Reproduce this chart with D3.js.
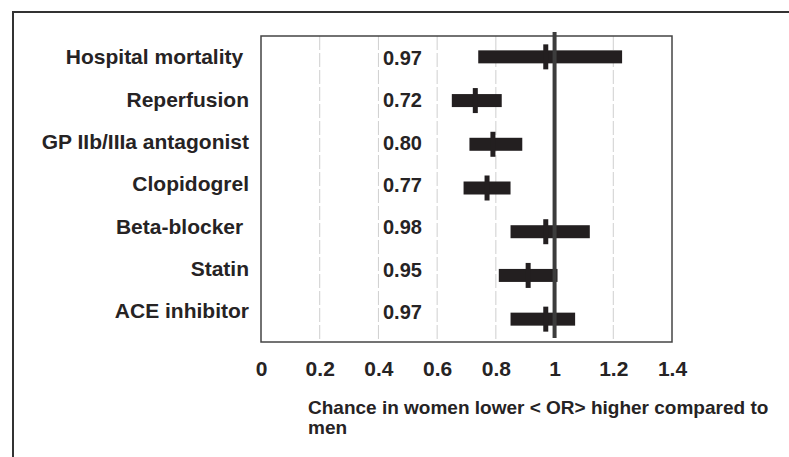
<!DOCTYPE html>
<html>
<head>
<meta charset="utf-8">
<script src="https://cdn.jsdelivr.net/npm/d3@7"></script>
<style>
  body { margin: 0; background: #fff; }
  text { font-family: "Liberation Sans", Arial, sans-serif; font-weight: bold; fill: #262324; }
</style>
</head>
<body>
<div id="chart"></div>
<script>
// rows, top to bottom
var categories = ['Hospital mortality ', 'Reperfusion', 'GP IIb/IIIa antagonist', 'Clopidogrel', 'Beta-blocker ', 'Statin', 'ACE inhibitor'];
// printed odds ratios
var orLabels = ['0.97', '0.72', '0.80', '0.77', '0.98', '0.95', '0.97'];
// where the marker sits on the axis
var estimates = [0.97, 0.73, 0.79, 0.77, 0.97, 0.91, 0.97];
// confidence intervals
var lower = [0.74, 0.65, 0.71, 0.69, 0.85, 0.81, 0.85];
var upper = [1.23, 0.82, 0.89, 0.85, 1.12, 1.01, 1.07];
var tickValues = [0, 0.2, 0.4, 0.6, 0.8, 1, 1.2, 1.4];
var gridValues = [0.2, 0.4, 0.6, 0.8, 1.2];
var axisTitle = ['Chance in women lower < OR> higher compared to', 'men'];

var width = 789;
var height = 457;
var plot = { left: 261, right: 672, top: 36, bottom: 342 };

var svg = d3.select('#chart').append('svg')
  .attr('width', width)
  .attr('height', height);

// outer frame (cut off at right and bottom)
svg.append('rect')
  .attr('x', 13).attr('y', 12)
  .attr('width', width).attr('height', height)
  .style('fill', 'none')
  .style('stroke', '#333')
  .style('stroke-width', 2);

var x = d3.scaleLinear().domain([0, 1.4]).range([plot.left, plot.right]);
var y = d3.scaleBand().domain(categories).range([35, 341]);
var yText = d3.scalePoint().domain(categories).range([57, 311]);

var rows = categories.map(function (c, i) {
  return { name: c, label: orLabels[i], est: estimates[i], lo: lower[i], hi: upper[i] };
});

// grid lines
svg.selectAll('.grid')
  .data(gridValues)
  .enter().append('line')
  .attr('class', 'grid')
  .attr('x1', function (d) { return x(d); })
  .attr('x2', function (d) { return x(d); })
  .attr('y1', plot.top)
  .attr('y2', plot.bottom)
  .style('stroke', '#cfcfcf')
  .style('stroke-width', 1)
  .style('stroke-dasharray', '14,3');

// plot box
svg.append('rect')
  .attr('x', plot.left).attr('y', plot.top)
  .attr('width', plot.right - plot.left)
  .attr('height', plot.bottom - plot.top)
  .style('fill', 'none')
  .style('stroke', '#444')
  .style('stroke-width', 1.5);

// x axis labels
var xAxis = d3.axisBottom(x)
  .tickValues(tickValues)
  .tickSize(0)
  .tickPadding(19)
  .tickFormat(function (d) { return String(d); });
var gx = svg.append('g')
  .attr('transform', 'translate(0,' + plot.bottom + ')')
  .call(xAxis);
gx.select('.domain').remove();
gx.selectAll('text')
  .style('font-size', '21px')
  .style('font-family', '"Liberation Sans", Arial, sans-serif')
  .style('font-weight', 'bold')
  .attr('fill', '#262324');

// CI bars and markers
var row = svg.selectAll('.row')
  .data(rows)
  .enter().append('g')
  .attr('class', 'row')
  .attr('transform', function (d) { return 'translate(0,' + (y(d.name) + y.bandwidth() / 2) + ')'; });
row.append('rect')
  .attr('x', function (d) { return x(d.lo); })
  .attr('y', -6.5)
  .attr('width', function (d) { return x(d.hi) - x(d.lo); })
  .attr('height', 13)
  .style('fill', '#231f20');
row.append('rect')
  .attr('x', function (d) { return x(d.est) - 2.5; })
  .attr('y', -12.5)
  .attr('width', 5)
  .attr('height', 25)
  .style('fill', '#231f20');

// line of no effect
svg.append('line')
  .attr('x1', x(1)).attr('x2', x(1))
  .attr('y1', 32).attr('y2', 338)
  .style('stroke', '#3c3c3c')
  .style('stroke-width', 4);

// row labels
svg.selectAll('.rowLabel')
  .data(rows)
  .enter().append('text')
  .attr('class', 'rowLabel')
  .attr('x', 249)
  .attr('y', function (d) { return yText(d.name); })
  .attr('dy', '0.35em')
  .attr('text-anchor', 'end')
  .style('white-space', 'pre')
  .style('font-size', '21px')
  .text(function (d) { return d.name; });

// OR values
svg.selectAll('.orLabel')
  .data(rows)
  .enter().append('text')
  .attr('class', 'orLabel')
  .attr('x', 383)
  .attr('y', function (d) { return yText(d.name) + 1; })
  .attr('dy', '0.35em')
  .style('font-size', '20px')
  .text(function (d) { return d.label; });

// axis title
svg.append('text')
  .attr('x', 308)
  .attr('y', 414)
  .style('font-size', '19px')
  .selectAll('tspan')
  .data(axisTitle)
  .enter().append('tspan')
  .attr('x', 308)
  .attr('dy', function (d, i) { return i ? 20 : 0; })
  .text(function (d) { return d; });
</script>
</body>
</html>
